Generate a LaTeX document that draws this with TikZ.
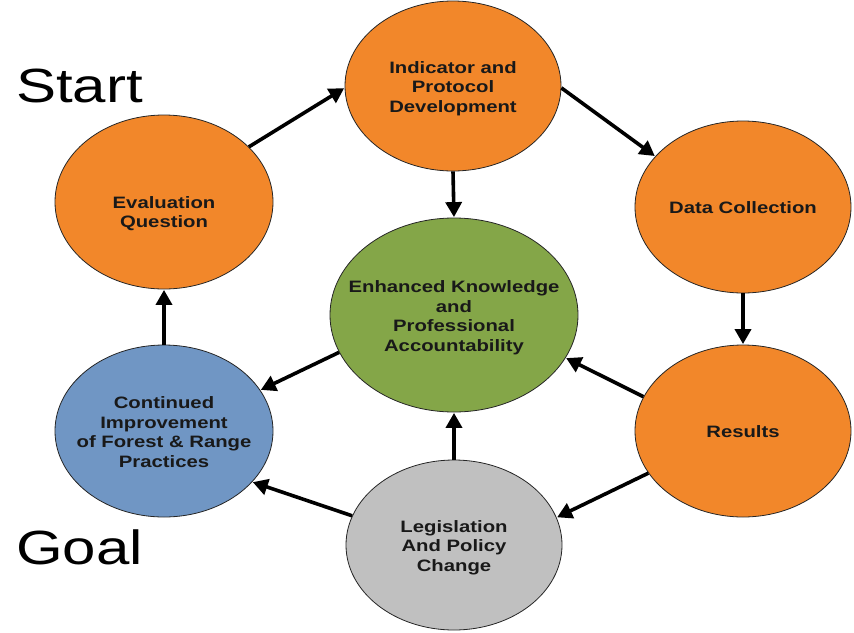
\documentclass[tikz,border=0pt]{standalone}
\usepackage{fontspec}
\setmainfont{Liberation Sans}
\usepackage{graphicx}
\usetikzlibrary{shapes.geometric,arrows.meta}
\definecolor{orangeF}{RGB}{242,135,42}
\definecolor{greenF}{RGB}{132,166,72}
\definecolor{blueF}{RGB}{112,150,196}
\definecolor{greyF}{RGB}{192,192,192}
\definecolor{txt}{RGB}{25,25,25}
\newcommand\cyctext[1]{\scalebox{1.23}[1]{\begin{tabular}{@{}c@{}}#1\end{tabular}}}
\tikzset{
  cyc/.style={ellipse, draw=black!85, line width=0.8pt, inner sep=0pt},
  cyclab/.style={font=\fontsize{16.5}{19.5}\selectfont\bfseries, text=txt, inner sep=0pt, yshift=-3pt},
  arr/.style={line width=3.6pt, -{Triangle[length=15pt,width=16pt]}, shorten >=0.5pt},
  big/.style={font=\fontsize{48}{50}\selectfont, inner sep=0pt, anchor=base west}
}
\begin{document}
\begin{tikzpicture}[x=1pt,y=-1pt]
\useasboundingbox (0,0) rectangle (854,632);
\node[cyc, fill=orangeF, minimum width=216pt, minimum height=170pt,
  label={[cyclab]center:\cyctext{Indicator and\\Protocol\\Development}}] (ind) at (453,86) {};
\node[cyc, fill=orangeF, minimum width=218pt, minimum height=174pt,
  label={[cyclab,yshift=-9pt]center:\cyctext{Evaluation\\Question}}] (eval) at (164,202) {};
\node[cyc, fill=orangeF, minimum width=216pt, minimum height=172pt,
  label={[cyclab]center:\cyctext{Data Collection}}] (data) at (743,207) {};
\node[cyc, fill=greenF, minimum width=248pt, minimum height=194pt,
  label={[cyclab]center:\cyctext{Enhanced Knowledge\\and\\Professional\\Accountability}}] (green) at (454,315) {};
\node[cyc, fill=blueF, minimum width=218pt, minimum height=172pt,
  label={[cyclab]center:\cyctext{Continued\\Improvement\\of Forest \& Range\\Practices}}] (blue) at (164,431) {};
\node[cyc, fill=orangeF, minimum width=216pt, minimum height=172pt,
  label={[cyclab]center:\cyctext{Results}}] (res) at (743,431) {};
\node[cyc, fill=greyF, minimum width=216pt, minimum height=170pt,
  label={[cyclab]center:\cyctext{Legislation\\And Policy\\Change}}] (leg) at (454,545) {};
\node[big] (start) at (16,102) {\scalebox{1.25}[1]{Start}};
\node[big] (goal) at (16,564) {\scalebox{1.25}[1]{Goal}};
\draw[arr] (eval.33) -- (ind.181);
\draw[arr] (ind.359) -- (data.150);
\draw[arr] (ind.south) -- (green.north);
\draw[arr] (data.south) -- (res.north);
\draw[arr] (res.161) -- (green.-21.5);
\draw[arr] (res.204) -- (leg.15.5);
\draw[arr] (leg.north) -- (green.south);
\draw[arr] (leg.164) -- (blue.-30);
\draw[arr] (green.198) -- (blue.23.7);
\draw[arr] (blue.north) -- (eval.south);
\end{tikzpicture}
\end{document}
